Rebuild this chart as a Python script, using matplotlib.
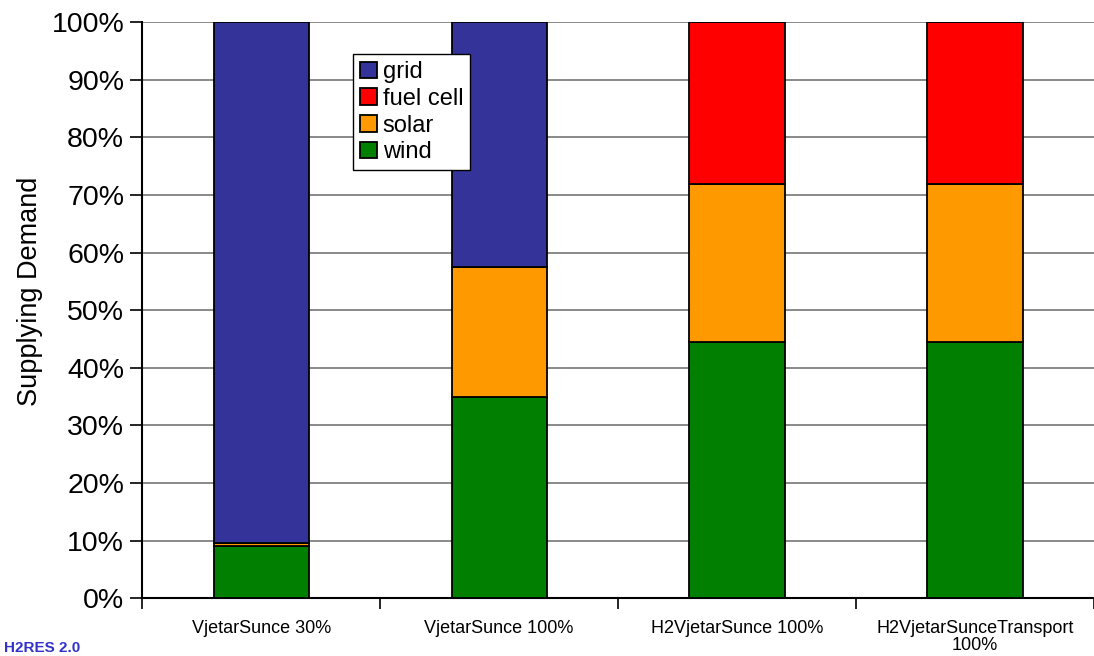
import numpy as np
import matplotlib.pyplot as plt
from matplotlib.ticker import FixedLocator, FuncFormatter

plt.rcParams['font.family'] = ['Liberation Sans', 'DejaVu Sans']

scenarios = ["VjetarSunce 30%", "VjetarSunce 100%", "H2VjetarSunce 100%",
             "H2VjetarSunceTransport\n100%"]
wind = [9.0, 35.0, 44.5, 44.5]
solar = [0.6, 22.6, 27.5, 27.5]
fuel_cell = [0.0, 0.0, 28.0, 28.0]
grid = [90.4, 42.4, 0.0, 0.0]

series = [("wind", wind, "#007f00"), ("solar", solar, "#ff9900"),
          ("fuel cell", fuel_cell, "#ff0000"), ("grid", grid, "#333399")]

fig = plt.figure(figsize=(10.94, 6.56), dpi=100)
ax = fig.add_axes([0.13, 0.088, 0.87, 0.878])

x = np.arange(len(scenarios))
bottom = np.zeros(len(scenarios))
handles = {}
for name, vals, col in series:
    vals = np.array(vals)
    b = ax.bar(x, vals, 0.4, bottom=bottom, color=col, edgecolor="black",
               linewidth=1.3, label=name, zorder=3)
    handles[name] = b
    bottom += vals

ax.set_xlim(-0.5, len(scenarios) - 0.5)
ax.set_ylim(0, 100)
ax.set_yticks(np.arange(0, 101, 10))
ax.yaxis.set_major_formatter(FuncFormatter(lambda v, p: f"{v:.0f}%"))
ax.yaxis.grid(True, color="#808080", linewidth=1.3, zorder=0)
ax.tick_params(axis="y", labelsize=20.5, length=9, width=1.2, direction="out", pad=4)
ax.set_ylabel("Supplying Demand", fontsize=19.5)
ax.yaxis.set_label_coords(-0.104, 0.533)

ax.set_xticks(x)
ax.set_xticklabels(scenarios, fontsize=13, linespacing=1.0)
ax.tick_params(axis="x", length=0, pad=16)
ax.xaxis.set_minor_locator(FixedLocator(np.arange(-0.5, len(scenarios), 1.0)))
ax.tick_params(axis="x", which="minor", length=8, width=1.2, direction="out")

for s in ["top", "right"]:
    ax.spines[s].set_visible(False)
for s in ["left", "bottom"]:
    ax.spines[s].set_linewidth(1.5)
    ax.spines[s].set_color("black")

order = ["grid", "fuel cell", "solar", "wind"]
leg = ax.legend([handles[n] for n in order], order, loc="upper left",
                bbox_to_anchor=(0.2216, 0.945), fontsize=17, frameon=True,
                fancybox=False, edgecolor="black", framealpha=1,
                handlelength=0.7, handleheight=0.7, handletextpad=0.25,
                borderpad=0.3, labelspacing=0.2, borderaxespad=0)
leg.get_frame().set_linewidth(1.0)
leg.set_zorder(5)

fig.text(0.004, 0.001, "H2RES 2.0", color="#3333cc", fontsize=11,
         fontweight="bold", ha="left", va="bottom")

fig.savefig("out.png", dpi=100)
